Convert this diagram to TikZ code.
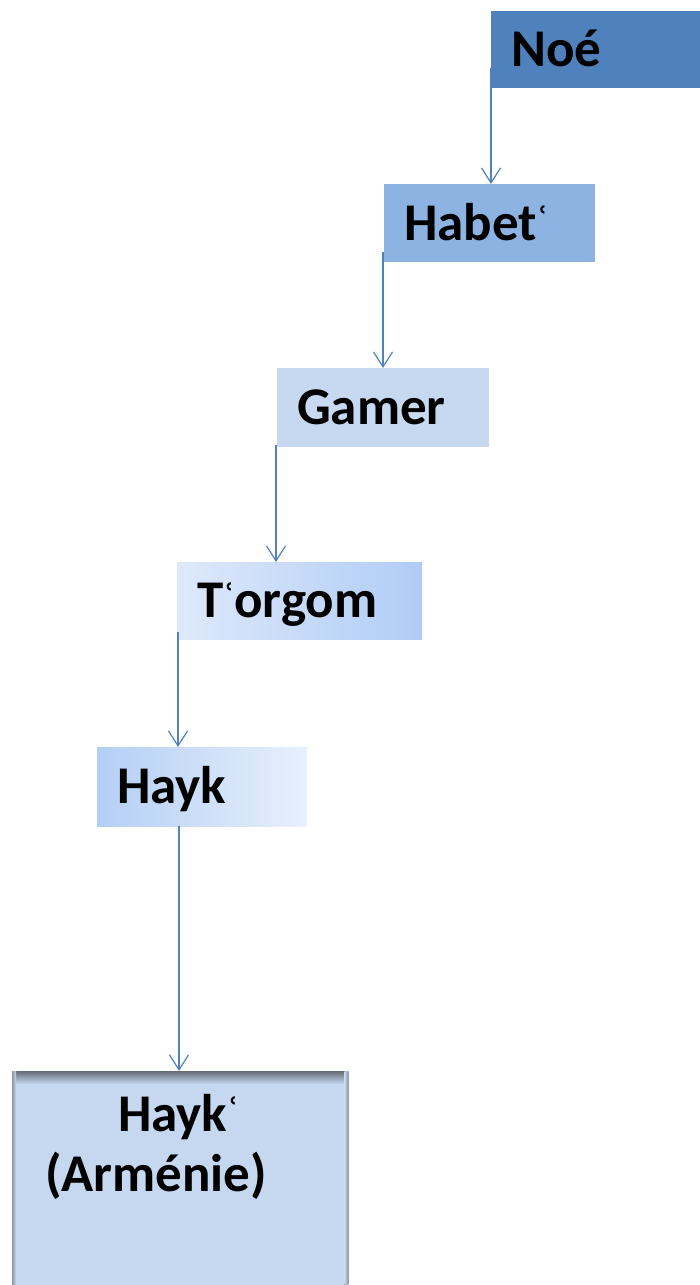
\documentclass[tikz,border=0pt]{standalone}
\usepackage{fontspec}
\setmainfont{Carlito}
\newfontfamily\djv{DejaVu Sans}
\usetikzlibrary{arrows.meta}
\definecolor{arrowblue}{RGB}{79,129,189}
\definecolor{noefill}{RGB}{79,129,189}
\definecolor{habetfill}{RGB}{141,179,226}
\definecolor{gamerfill}{RGB}{198,217,241}
\definecolor{torgL}{RGB}{222,233,251}
\definecolor{torgR}{RGB}{176,204,245}
\definecolor{haykL}{RGB}{180,207,245}
\definecolor{haykR}{RGB}{232,240,252}
\definecolor{armfill}{RGB}{197,216,240}
\definecolor{armshadow}{RGB}{100,107,117}
\newcommand{\halfring}{{\djv\fontsize{30pt}{30pt}\selectfont\raisebox{12pt}{ʿ}}}
\begin{document}
\begin{tikzpicture}[x=1pt,y=-1pt,
  gbox/.style={rectangle, anchor=north west, inner xsep=20pt, inner ysep=0pt,
    font=\fontsize{53pt}{62pt}\selectfont\bfseries, text height=34pt, text depth=0pt,
    align=left, text=black},
  txt/.style={inner sep=0pt, font=\fontsize{53pt}{62pt}\selectfont\bfseries, text=black},
  conn/.style={draw=arrowblue, line width=1.2pt,
    -{Straight Barb[length=15pt,width=19pt,line width=1.2pt]}}]
\useasboundingbox (0,0) rectangle (699,1285);
\node[gbox, fill=noefill, minimum height=77pt, text width=190pt] (noe) at (491,11) {Noé};
\node[gbox, fill=habetfill, minimum height=78pt, text width=171pt] (habet) at (384,184) {Habet\halfring};
\node[gbox, fill=gamerfill, minimum height=79pt, text width=172pt] (gamer) at (277,368) {Gamer};
\node[gbox, left color=torgL, right color=torgR, minimum height=77pt, text width=205pt] (torgom) at (177,562) {T\halfring orgom};
\node[gbox, left color=haykL, right color=haykR, minimum height=79pt, text width=170pt] (hayk) at (97,747) {Hayk};
\node[rectangle, anchor=north west, minimum width=336pt, minimum height=230pt, inner sep=0pt, fill=armfill] (armbox) at (12,1071) {};
\fill[top color=armshadow, bottom color=armfill] (armbox.north west) rectangle ([yshift=-13pt]armbox.north east);
\fill[left color=armshadow!70, right color=armfill] (armbox.north west) rectangle ([xshift=4pt]armbox.south west);
\fill[left color=armfill, right color=armshadow!70] ([xshift=-4pt]armbox.north east) rectangle (armbox.south east);
\node[txt, anchor=base west] (arm1) at (118,1131) {Hayk\halfring};
\node[txt, anchor=base west] (arm2) at (45,1191) {(Arménie)};
\draw[conn] ([yshift=20pt]noe.south west) -- (noe.south west |- habet.north);
\draw[conn] ([yshift=10pt,xshift=-1pt]habet.south west) -- ([xshift=-1pt]habet.south west |- gamer.north);
\draw[conn] ([yshift=2pt,xshift=-1pt]gamer.south west) -- ([xshift=-1pt]gamer.south west |- torgom.north);
\draw[conn] ([yshift=7pt,xshift=1pt]torgom.south west) -- ([xshift=1pt]torgom.south west |- hayk.north);
\draw[conn] ([xshift=82pt]hayk.south west) -- ([xshift=82pt]hayk.south west |- armbox.north);
\end{tikzpicture}
\end{document}
